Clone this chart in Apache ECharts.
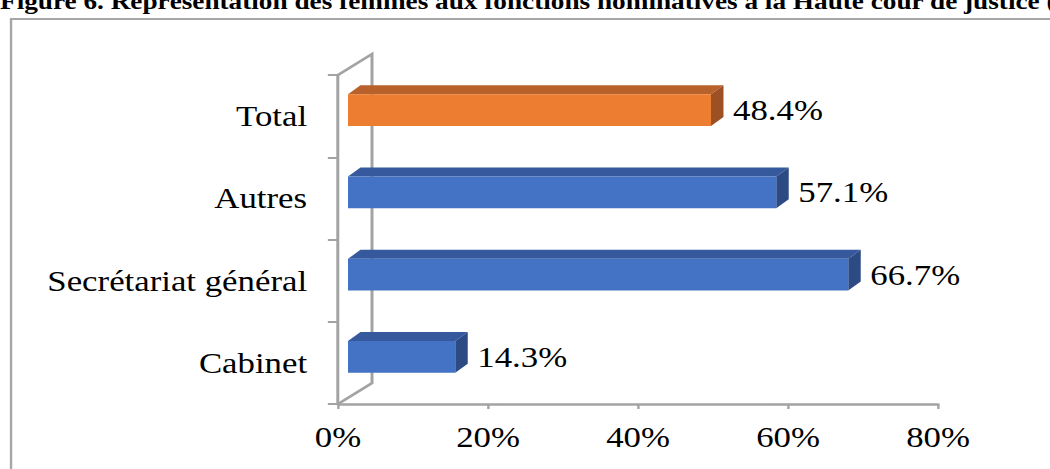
<!DOCTYPE html>
<html>
<head>
<meta charset="utf-8">
<script src="https://cdn.jsdelivr.net/npm/echarts@6/dist/echarts.min.js"></script>
<style>
  html, body { margin: 0; padding: 0; background: #fff; overflow: hidden; }
  #wrap { width: 1050px; height: 469px; overflow: hidden; position: relative; }
  /* The figure is laid out at a narrower width and stretched horizontally */
  #chart { width: 875px; height: 469px; transform: scaleX(1.2); transform-origin: 0 0; }
</style>
</head>
<body>
<div id="wrap"><div id="chart"></div></div>
<script>
// Categories, bottom to top
const categories = ['Cabinet', 'Secrétariat général', 'Autres', 'Total'];
// Share of women (%)
const shares = [14.3, 66.7, 57.1, 48.4];
// Value axis ticks (%)
const axisMin = 0;
const axisMax = 80;
const axisStep = 20;
const titleText = 'Figure 6. Représentation des femmes aux fonctions nominatives à la Haute cour de justice (en %)';

const FONT = '"Liberation Serif", "Times New Roman", serif';
const AXIS_GRAY = '#a3a3a3';

// 3-D look: wall depth, bar depth and bar placement inside the wall
const WALL_DX = 28.3, WALL_DY = -21;
const BAR_DX = 10.4, BAR_DY = -9;
const FRONT_DX = 8.3, FRONT_DY = -6;
const BAR_RATIO = 0.384;

const palette = {
  normal: { front: '#4472C4', top: '#35599C', side: '#2C4B84' },
  total:  { front: '#ED7D31', top: '#B9612A', side: '#9C5023' }
};

const chart = echarts.init(document.getElementById('chart'), null, { renderer: 'svg' });

chart.setOption({
  animation: false,
  backgroundColor: '#fff',
  graphic: [
    {
      type: 'rect', z: 0, silent: true,
      shape: { x: 9.2, y: 19, width: 1200, height: 600 },
      style: { fill: null, stroke: '#a6a6a6', lineWidth: 2 }
    },
    {
      type: 'text', z: 10, silent: true,
      style: {
        x: 0, y: 13, text: titleText,
        font: 'bold 22.7px ' + FONT, fill: '#000',
        align: 'left', verticalAlign: 'bottom'
      }
    }
  ],
  grid: { left: 281.7, right: 93.3, top: 75, bottom: 65, containLabel: false },
  xAxis: {
    type: 'value', min: axisMin, max: axisMax, interval: axisStep,
    axisLine: { show: true, lineStyle: { color: AXIS_GRAY, width: 2.5 } },
    axisTick: { show: true, inside: false, length: 5, lineStyle: { color: AXIS_GRAY, width: 2 } },
    splitLine: { show: false },
    axisLabel: {
      formatter: '{value}%', color: '#000', fontFamily: FONT, fontSize: 29, margin: 19
    }
  },
  yAxis: {
    type: 'category', data: categories,
    axisLine: { show: true, lineStyle: { color: AXIS_GRAY, width: 2.5 } },
    axisTick: { show: true, inside: false, length: 8.5, lineStyle: { color: AXIS_GRAY, width: 2 } },
    splitLine: { show: false },
    axisLabel: { color: '#000', fontFamily: FONT, fontSize: 29, margin: 25.8 }
  },
  series: [
    {
      // back wall and floor edges of the 3-D plot area
      type: 'custom', name: 'wall', silent: true, z: 1,
      data: [[axisMin, 0]],
      encode: { x: 0, y: 1 },
      renderItem: function (params, api) {
        const cs = params.coordSys;
        const x0 = cs.x, yTop = cs.y, yBot = cs.y + cs.height;
        return {
          type: 'polyline',
          shape: { points: [[x0, yBot], [x0 + WALL_DX, yBot + WALL_DY], [x0 + WALL_DX, yTop + WALL_DY], [x0, yTop]] },
          style: { stroke: AXIS_GRAY, lineWidth: 2.5, fill: null }
        };
      }
    },
    {
      type: 'custom', name: 'Femmes', z: 3,
      data: shares.map(function (v, i) { return [v, i]; }),
      encode: { x: 0, y: 1 },
      renderItem: function (params, api) {
        const v = api.value(0), idx = api.value(1);
        const base = api.coord([axisMin, idx]);
        const end = api.coord([v, idx]);
        const band = api.size([0, 1])[1];
        const h = band * BAR_RATIO;
        const x0 = base[0] + FRONT_DX, x1 = end[0] + FRONT_DX;
        const yc = base[1] + FRONT_DY;
        const y0 = yc - h / 2, y1 = yc + h / 2;
        const c = categories[idx] === 'Total' ? palette.total : palette.normal;
        return {
          type: 'group',
          children: [
            {
              type: 'polygon',
              shape: { points: [[x0, y0], [x1, y0], [x1 + BAR_DX, y0 + BAR_DY], [x0 + BAR_DX, y0 + BAR_DY]] },
              style: { fill: c.top }
            },
            {
              type: 'polygon',
              shape: { points: [[x1, y0], [x1 + BAR_DX, y0 + BAR_DY], [x1 + BAR_DX, y1 + BAR_DY], [x1, y1]] },
              style: { fill: c.side }
            },
            {
              type: 'rect',
              shape: { x: x0, y: y0, width: x1 - x0, height: h },
              style: { fill: c.front }
            },
            {
              type: 'text',
              style: {
                x: x1 + BAR_DX + 8, y: yc,
                text: v.toFixed(1) + '%',
                font: '29px ' + FONT, fill: '#000',
                align: 'left', verticalAlign: 'middle'
              }
            }
          ]
        };
      }
    }
  ]
});
</script>
</body>
</html>
